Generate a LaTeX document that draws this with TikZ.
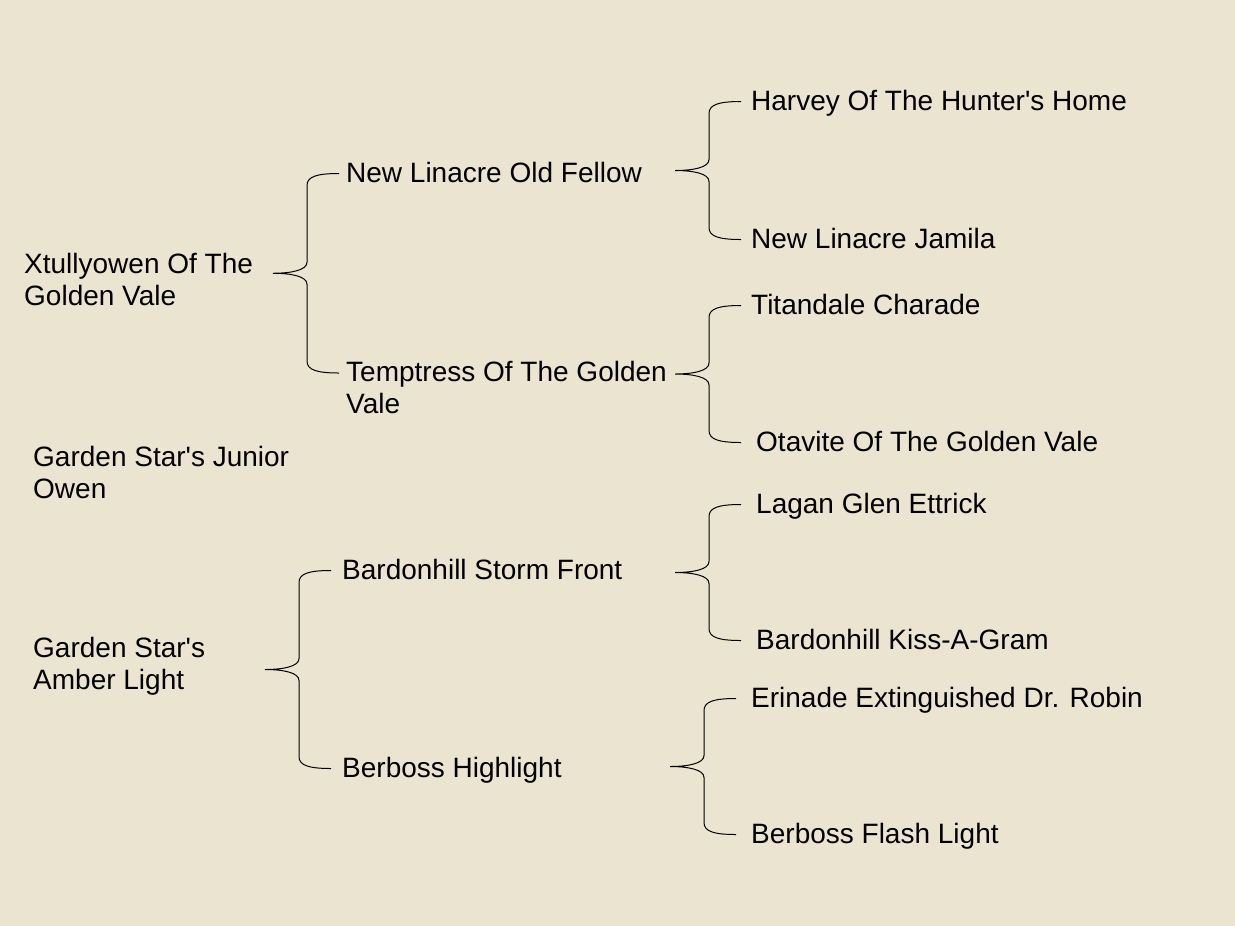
\documentclass[tikz,border=0pt]{standalone}
\usepackage{fontspec}
\newfontfamily\dogfont{Liberation Sans}
\usetikzlibrary{calc}
\definecolor{paper}{RGB}{234,228,209}

\newcommand{\pedbrace}[3]{%
\draw[brace] let \p1=(#1), \p2=(#2.north west), \p3=(#3.north west),
  \n1={\y2-12pt}, \n2={\y3-12pt}, \n3={(\n1+\n2)/2} in
  (\x1+66pt,\n1) .. controls (\x1+44pt,\n1) and (\x1+34pt,\n1-3pt) .. (\x1+34pt,\n1-12pt)
  -- (\x1+34pt,\n3+11pt) .. controls (\x1+34pt,\n3+3pt) and (\x1+18pt,\n3) .. (\x1,\n3)
  .. controls (\x1+18pt,\n3) and (\x1+34pt,\n3-3pt) .. (\x1+34pt,\n3-11pt)
  -- (\x1+34pt,\n2+12pt) .. controls (\x1+34pt,\n2+3pt) and (\x1+44pt,\n2) .. (\x1+66pt,\n2);
}

\begin{document}
\begin{tikzpicture}[x=1pt,y=-1pt,
  dog/.style={anchor=base west,inner sep=0pt,align=left,
    font=\dogfont\fontsize{28}{31.5}\selectfont},
  brace/.style={line width=1pt,color=black}]

\fill[paper] (0,0) rectangle (1235,926);
\useasboundingbox (0,0) rectangle (1235,926);

\node[dog] (xtully) at (24,305) {Xtullyowen Of The\\Golden Vale};
\node[dog] (junior) at (33,498) {Garden Star's Junior\\Owen};
\node[dog] (amber) at (33,689) {Garden Star's\\Amber Light};

\node[dog] (oldfellow) at (346,182) {New Linacre Old Fellow};
\node[dog] (temptress) at (346,413) {Temptress Of The Golden\\Vale};
\node[dog] (stormfront) at (342,579) {Bardonhill Storm Front};
\node[dog] (highlight) at (342,777) {Berboss Highlight};

\node[dog] (harvey) at (751,110) {Harvey Of The Hunter's Home};
\node[dog] (jamila) at (751,248) {New Linacre Jamila};
\node[dog] (titandale) at (751,314) {Titandale Charade};
\node[dog] (otavite) at (756,451) {Otavite Of The Golden Vale};
\node[dog] (lagan) at (756,513) {Lagan Glen Ettrick};
\node[dog] (kissagram) at (756,649) {Bardonhill Kiss-A-Gram};
\node[dog] (erinade) at (751,707) {Erinade Extinguished Dr. Robin};
\node[dog] (flashlight) at (751,843) {Berboss Flash Light};

\coordinate (xtully-tip) at (273,274);
\coordinate (oldfellow-tip) at (675,170);
\coordinate (temptress-tip) at (675,373);
\coordinate (amber-tip) at (265,667);
\coordinate (stormfront-tip) at (675,571);
\coordinate (highlight-tip) at (670,766);

\pedbrace{xtully-tip}{oldfellow}{temptress}
\pedbrace{oldfellow-tip}{harvey}{jamila}
\pedbrace{temptress-tip}{titandale}{otavite}
\pedbrace{amber-tip}{stormfront}{highlight}
\pedbrace{stormfront-tip}{lagan}{kissagram}
\pedbrace{highlight-tip}{erinade}{flashlight}

\end{tikzpicture}
\end{document}
